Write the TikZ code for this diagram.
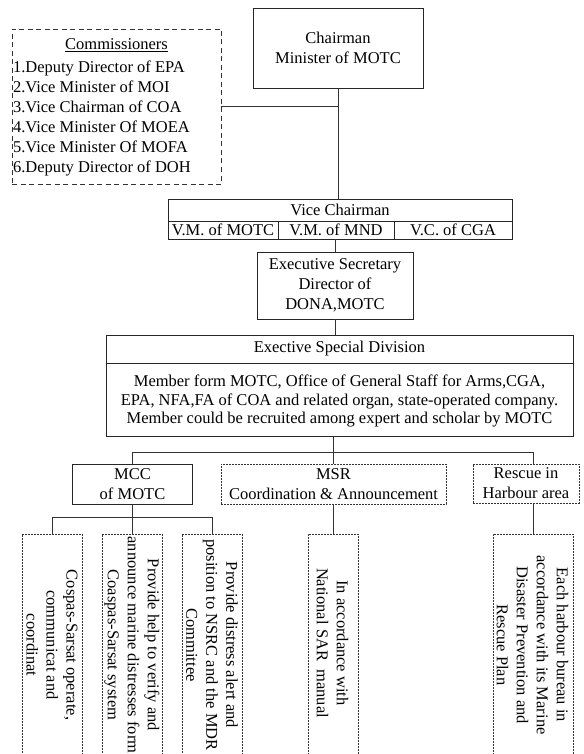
\documentclass[tikz,border=0pt]{standalone}
\usepackage{fontspec}
\setmainfont{Liberation Serif}
\begin{document}
\begin{tikzpicture}[x=1pt,y=-1pt,
  every node/.style={inner sep=0pt, outer sep=0pt, font=\fontsize{16.5}{20}\selectfont},
  box/.style={draw=black!85, line width=0.8pt},
  dbox/.style={draw=black!80, line width=0.7pt, dash pattern=on 2pt off 1pt},
  cbox/.style={draw=black!80, line width=0.8pt, dash pattern=on 5pt off 3.5pt},
  conn/.style={draw=black!80, line width=0.9pt},
  vtext/.style={rotate=-90, align=center},
  txt/.style={align=center}]
\useasboundingbox (0,0) rectangle (583,754);
\clip (0,0) rectangle (583,754);
% Chairman
\node[box, minimum width=170pt, minimum height=80pt] (chair) at (338,48) {};
\node[txt] (chairt) at (chair.center) {Chairman\\Minister of MOTC};
% Commissioners
\node[cbox, minimum width=209pt, minimum height=155pt] (comm) at (116.5,106.5) {};
\node (commt) at (116.5,45) {\underline{Commissioners}};
\node[anchor=west, align=left] (comml) at (13,118) {1.Deputy Director of EPA\\2.Vice Minister of MOI\\3.Vice Chairman of COA\\4.Vice Minister Of MOEA\\5.Vice Minister Of MOFA\\6.Deputy Director of DOH};
% Vice chairman
\node[box, minimum width=344pt, minimum height=22pt] (vc) at (340,210) {};
\node (vct) at (vc.center) {Vice Chairman};
\node[box, minimum width=110pt, minimum height=18pt] (vc1) at (223,230) {};
\node (vc1t) at (vc1.center) {V.M. of MOTC};
\node[box, minimum width=116pt, minimum height=18pt] (vc2) at (336,230) {};
\node (vc2t) at (vc2.center) {V.M. of MND};
\node[box, minimum width=118pt, minimum height=18pt] (vc3) at (453,230) {};
\node (vc3t) at (vc3.center) {V.C. of CGA};
% Executive secretary
\node[box, minimum width=156pt, minimum height=67pt] (es) at (335,285.5) {};
\node[txt] (est) at (es.center) {Executive Secretary\\Director of\\DONA,MOTC};
% Exective special division
\node[box, minimum width=467pt, minimum height=28pt] (esdt) at (339.5,349) {};
\node (esdtt) at (esdt.center) {Exective Special Division};
\node[box, minimum width=467pt, minimum height=73pt] (esdb) at (339.5,399.5) {};
\node[txt, font=\fontsize{16.5}{18.7}\selectfont] (esdbt) at (339.5,401) {Member form MOTC, Office of General Staff for Arms,CGA,\\EPA, NFA,FA of COA and related organ, state-operated company.\\Member could be recruited among expert and scholar by MOTC};
% Second level
\node[box, minimum width=120pt, minimum height=40pt] (mcc) at (132.5,484) {};
\node[txt] (mcct) at (mcc.center) {MCC\\of MOTC};
\node[dbox, minimum width=225pt, minimum height=40pt] (msr) at (333.5,484) {};
\node[txt] (msrt) at (msr.center) {MSR\\Coordination \& Announcement};
\node[dbox, minimum width=106pt, minimum height=39pt] (resc) at (526,483.5) {};
\node[txt] (resct) at (resc.center) {Rescue in\\Harbour area};
% Third level boxes
\node[dbox, minimum width=60pt, minimum height=236pt] (c1) at (52,652) {};
\node[dbox, minimum width=60pt, minimum height=236pt] (c2) at (132,652) {};
\node[dbox, minimum width=60pt, minimum height=236pt] (c3) at (212,652) {};
\node[dbox, minimum width=50pt, minimum height=236pt] (c4) at (333,652) {};
\node[dbox, minimum width=80pt, minimum height=236pt] (c5) at (533,652) {};
\node[vtext] (c1t) at (52,645) {Cospas-Sarsat operate,\\communicat and\\coordinat};
\node[vtext] (c2t) at (132,645) {Provide help to verify and\\announce marine distresses form\\Coaspas-Sarsat system};
\node[vtext] (c3t) at (212,645) {Provide distress alert and\\position to NSRC and the MDR\\Committee};
\node[vtext] (c4t) at (332.5,643) {In accordance with\\National SAR\ \ manual};
\node[vtext] (c5t) at (532.5,645) {Each harbour bureau in\\accordance with its Marine\\Disaster Prevention and\\Rescue Plan};
% Connectors
\coordinate (bus) at (333,452);
\draw[conn] (chair.south) -- (vc.north -| chair.south);
\draw[conn] (comm.east) -- (comm.east -| chair.south);
\draw[conn] (es.north) -- (es.north |- vc2.south);
\draw[conn] (es.south) -- (esdt.north -| es.south);
\draw[conn] (esdb.south -| bus) -- (bus);
\draw[conn] (mcc.north -| c2.north) -- (c2.north |- bus) -- (c5.north |- bus) -- (resc.north -| c5.north);
\draw[conn] (msr.north -| bus) -- (bus);
\draw[conn] (c1.north) -- ++(0,-17) -| (c3.north);
\draw[conn] (mcc.south -| c2.north) -- (c2.north);
\draw[conn] (msr.south -| c4.north) -- (c4.north);
\draw[conn] (resc.south -| c5.north) -- (c5.north);
\end{tikzpicture}
\end{document}
